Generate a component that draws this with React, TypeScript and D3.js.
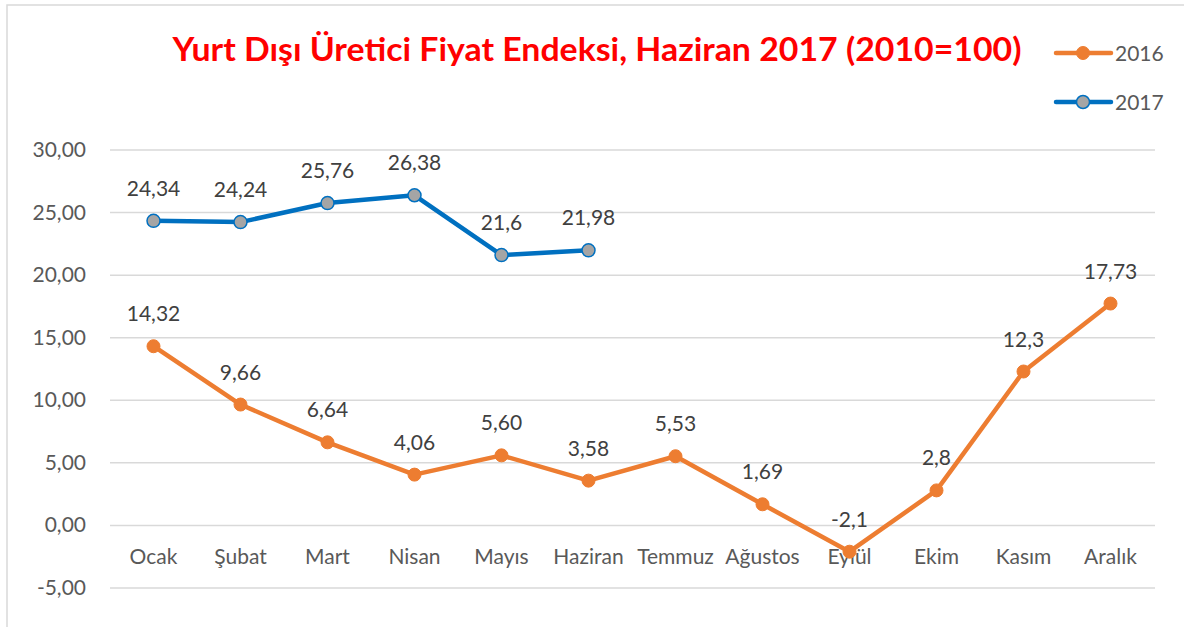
import React from "react";
import * as d3 from "d3";

const months = ["Ocak", "Şubat", "Mart", "Nisan", "Mayıs", "Haziran", "Temmuz", "Ağustos", "Eylül", "Ekim", "Kasım", "Aralık"];
const values2016 = [14.32, 9.66, 6.64, 4.06, 5.6, 3.58, 5.53, 1.69, -2.1, 2.8, 12.3, 17.73];
const labels2016 = ["14,32", "9,66", "6,64", "4,06", "5,60", "3,58", "5,53", "1,69", "-2,1", "2,8", "12,3", "17,73"];
const values2017 = [24.34, 24.24, 25.76, 26.38, 21.6, 21.98];
const labels2017 = ["24,34", "24,24", "25,76", "26,38", "21,6", "21,98"];
const yTicks = [-5, 0, 5, 10, 15, 20, 25, 30];
const title = "Yurt Dışı Üretici Fiyat Endeksi, Haziran 2017 (2010=100)";

const FONT = "Lato, 'Open Sans', sans-serif";
const ORANGE = "#ED7D31";
const BLUE = "#0070C0";

export default function App() {
  const W = 1184, H = 627;
  const x = d3.scaleBand<string>().domain(months).range([110, 1154]);
  const y = d3.scaleLinear().domain([-5, 30]).range([588, 150]);
  const cx = (m: string) => (x(m) as number) + x.bandwidth() / 2;

  const line = d3.line<[string, number]>().x(d => cx(d[0])).y(d => y(d[1]));
  const d16 = months.map((m, i) => [m, values2016[i]] as [string, number]);
  const d17 = values2017.map((v, i) => [months[i], v] as [string, number]);
  const fmtTick = (v: number) => d3.format(".2f")(v).replace(".", ",").replace("−", "-");
  const FS = 21;

  return (
    <svg width={W} height={H} style={{ position: "absolute", left: 0, top: 0, background: "#fff" }} fontFamily={FONT}>
      <rect x={7} y={5} width={W + 20} height={H + 20} fill="#fff" stroke="#D9D9D9" strokeWidth={1.5} />
      <text x={597} y={61} textAnchor="middle" fill="#FF0000" fontWeight="bold" fontSize={33}
        textLength={849} lengthAdjust="spacingAndGlyphs">{title}</text>

      {yTicks.map(t => (
        <g key={t}>
          <line x1={110} x2={1155} y1={y(t)} y2={y(t)} stroke="#D9D9D9" strokeWidth={1.5} />
          <text x={86} y={y(t) + 7} textAnchor="end" fontSize={FS} fill="#595959">{fmtTick(t)}</text>
        </g>
      ))}

      {months.map(m => (
        <text key={m} x={cx(m)} y={564} textAnchor="middle" fontSize={FS} fill="#595959">{m}</text>
      ))}

      <path d={line(d16) as string} fill="none" stroke={ORANGE} strokeWidth={4.5} strokeLinejoin="round" />
      {d16.map((d, i) => (
        <circle key={i} cx={cx(d[0])} cy={y(d[1])} r={6.5} fill={ORANGE} stroke={ORANGE} strokeWidth={1} />
      ))}
      {d16.map((d, i) => (
        <text key={"l" + i} x={cx(d[0])} y={y(d[1]) - 25} textAnchor="middle" fontSize={FS} fill="#404040">{labels2016[i]}</text>
      ))}

      <path d={line(d17) as string} fill="none" stroke={BLUE} strokeWidth={4.5} strokeLinejoin="round" />
      {d17.map((d, i) => (
        <circle key={i} cx={cx(d[0])} cy={y(d[1])} r={6.5} fill="#A5A5A5" stroke={BLUE} strokeWidth={1.5} />
      ))}
      {d17.map((d, i) => (
        <text key={"m" + i} x={cx(d[0])} y={y(d[1]) - 25} textAnchor="middle" fontSize={FS} fill="#404040">{labels2017[i]}</text>
      ))}

      <g>
        <line x1={1056} x2={1111} y1={53} y2={53} stroke={ORANGE} strokeWidth={4.5} strokeLinecap="round" />
        <circle cx={1083} cy={53} r={6.5} fill={ORANGE} stroke={ORANGE} />
        <text x={1115} y={61} fontSize={FS} fill="#595959">2016</text>
        <line x1={1056} x2={1111} y1={102} y2={102} stroke={BLUE} strokeWidth={4.5} strokeLinecap="round" />
        <circle cx={1083} cy={102} r={6.5} fill="#A5A5A5" stroke={BLUE} strokeWidth={1.5} />
        <text x={1115} y={110} fontSize={FS} fill="#595959">2017</text>
      </g>
    </svg>
  );
}
